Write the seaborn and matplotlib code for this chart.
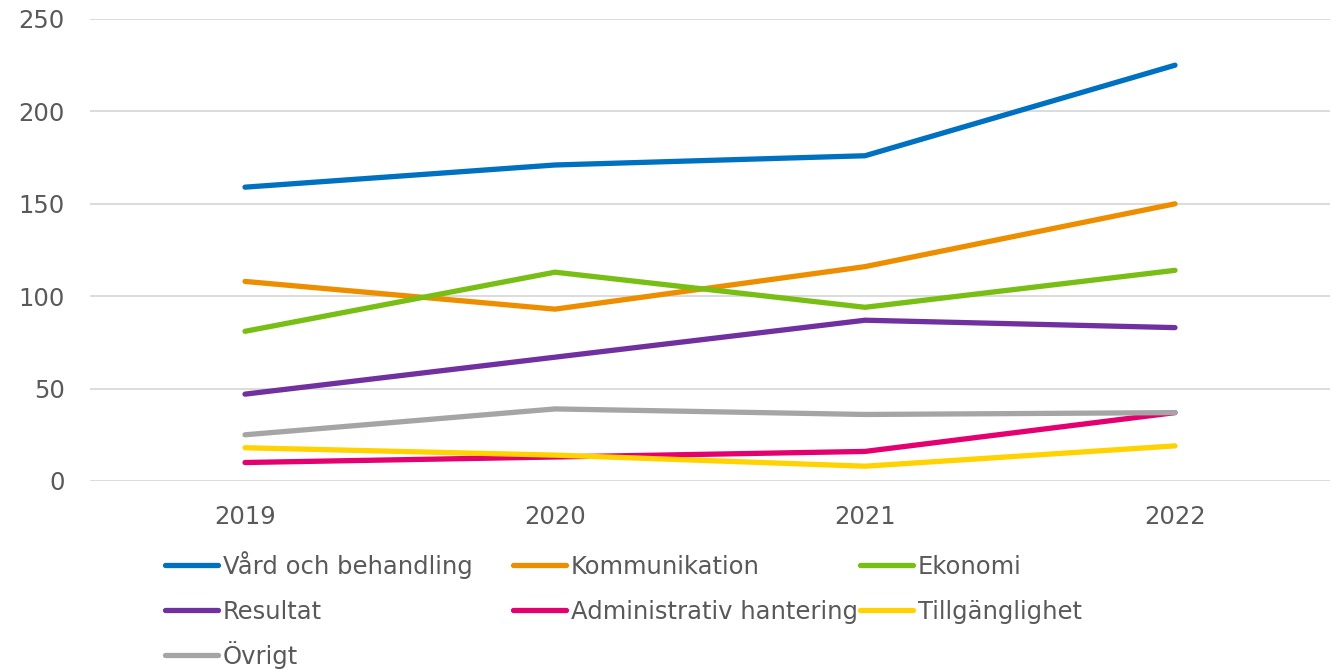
import pandas as pd
import matplotlib.pyplot as plt
import seaborn as sns
from matplotlib.lines import Line2D

# Data
years = [2019, 2020, 2021, 2022]
vard = [159, 171, 176, 225]
kommunikation = [108, 93, 116, 150]
ekonomi = [81, 113, 94, 114]
resultat = [47, 67, 87, 83]
administrativ = [10, 13, 16, 37]
tillganglighet = [18, 14, 8, 19]
ovrigt = [25, 39, 36, 37]

names = ["Vård och behandling", "Kommunikation", "Ekonomi", "Resultat",
         "Administrativ hantering", "Tillgänglighet", "Övrigt"]
colors = ["#0071C1", "#EC8E00", "#78BE14", "#7030A0", "#E4006E", "#FFD200", "#A5A5A5"]
series = [vard, kommunikation, ekonomi, resultat, administrativ, tillganglighet, ovrigt]

df = pd.DataFrame({
    "year": years * len(names),
    "value": [v for s in series for v in s],
    "serie": [n for n in names for _ in years],
})

sns.set_theme(style="white")
plt.rcParams["font.family"] = ["DejaVu Sans"]
text_color = "#595959"
W, H = 1332, 669

fig = plt.figure(figsize=(W / 100, H / 100), dpi=100)
ax = fig.add_axes([90 / W, 1 - 481 / H, 1240 / W, 462 / H])

sns.lineplot(data=df, x="year", y="value", hue="serie", hue_order=names,
             palette=colors, linewidth=3.8, ax=ax, legend=False,
             solid_capstyle="round")

ax.set_xlim(2018.5, 2022.5)
ax.set_ylim(0, 250)
ax.set_yticks(range(0, 251, 50))
ax.set_xticks(years)
ax.yaxis.grid(True, color="#d9d9d9", linewidth=1.3)
ax.set_axisbelow(True)
for s in ax.spines.values():
    s.set_visible(False)
ax.tick_params(axis="both", length=0, labelsize=17.5, labelcolor=text_color)
ax.tick_params(axis="y", pad=18)
ax.tick_params(axis="x", pad=17)
ax.set_xlabel("")
ax.set_ylabel("")

# Legend: three equal-width columns below the plot, drawn entry by entry
col_x = [165, 513, 860]
row_y = [565, 610, 655]
for i, (name, c) in enumerate(zip(names, colors)):
    x0 = col_x[i % 3]
    yl = row_y[i // 3]
    fig.add_artist(Line2D([x0 / W, (x0 + 53) / W], [1 - yl / H] * 2, color=c, linewidth=3.8,
                          solid_capstyle="round", transform=fig.transFigure))
    fig.text((x0 + 58) / W, 1 - (yl + 9) / H, name, fontsize=17.5, color=text_color,
             va="baseline", ha="left")

fig.savefig("out.png", dpi=100)
